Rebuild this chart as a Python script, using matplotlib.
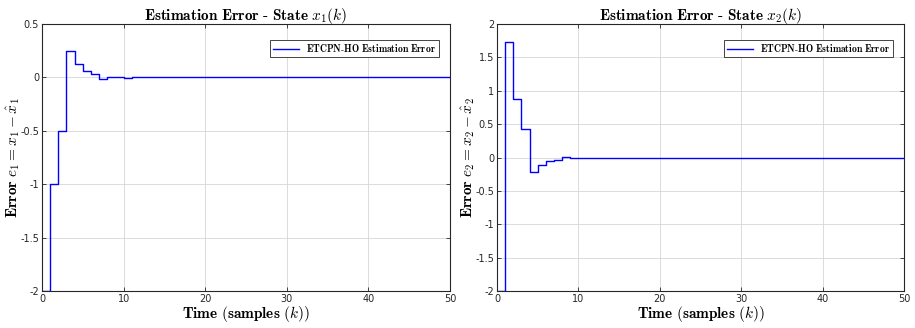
import matplotlib
matplotlib.use("Agg")
import matplotlib.pyplot as plt

plt.rcParams['mathtext.fontset'] = 'cm'
plt.rcParams['font.family'] = ['DejaVu Sans']

k = list(range(51))
e1 = [-2.0, -1.0, -0.5, 0.25, 0.125, 0.0625, 0.03, -0.015, 0.008, 0.008,
      -0.004, 0.0, 0.0, 0.0, 0.0, 0.0, 0.0, 0.0, 0.0, 0.0,
      0.0, 0.0, 0.0, 0.0, 0.0, 0.0, 0.0, 0.0, 0.0, 0.0,
      0.0, 0.0, 0.0, 0.0, 0.0, 0.0, 0.0, 0.0, 0.0, 0.0,
      0.0, 0.0, 0.0, 0.0, 0.0, 0.0, 0.0, 0.0, 0.0, 0.0, 0.0]
e2 = [-2.0, 1.73, 0.87, 0.43, -0.21, -0.11, -0.05, -0.03, 0.012, -0.008,
      -0.004, 0.0, 0.0, 0.0, 0.0, 0.0, 0.0, 0.0, 0.0, 0.0,
      0.0, 0.0, 0.0, 0.0, 0.0, 0.0, 0.0, 0.0, 0.0, 0.0,
      0.0, 0.0, 0.0, 0.0, 0.0, 0.0, 0.0, 0.0, 0.0, 0.0,
      0.0, 0.0, 0.0, 0.0, 0.0, 0.0, 0.0, 0.0, 0.0, 0.0, 0.0]

titles = [r'$\mathbf{Estimation\ Error\ \text{-}\ State}\ x_1(k)$',
          r'$\mathbf{Estimation\ Error\ \text{-}\ State}\ x_2(k)$']
ylabels = [r'$\mathbf{Error}\ e_1 = x_1 - \hat{x}_1$',
           r'$\mathbf{Error}\ e_2 = x_2 - \hat{x}_2$']
xlabel = r'$\mathbf{Time\ (samples\ (}k\mathbf{))}$'
legend_label = r'$\mathbf{ETCPN\text{-}HO\ Estimation\ Error}$'
yticks = [[-2, -1.5, -1, -0.5, 0, 0.5],
          [-2, -1.5, -1, -0.5, 0, 0.5, 1, 1.5, 2]]
ylims = [(-2, 0.5), (-2, 2)]

fig = plt.figure(figsize=(9.15, 3.28), dpi=100)
W, H = 915, 328
boxes = [(42, 24, 450, 291), (497, 24, 904, 291)]
dark = (0.15, 0.15, 0.15)

for i, data in enumerate([e1, e2]):
    x0, y0, x1, y1 = boxes[i]
    ax = fig.add_axes([x0 / W, 1 - y1 / H, (x1 - x0) / W, (y1 - y0) / H])
    ax.step(k, data, where='post', color=(0, 0, 1), lw=1.0,
            label='ETCPN-HO Estimation Error')
    ax.set_xlim(0, 50)
    ax.set_ylim(*ylims[i])
    ax.set_xticks([0, 10, 20, 30, 40, 50])
    ax.set_yticks(yticks[i])
    ax.set_yticklabels(['%g' % v for v in yticks[i]])
    ax.grid(True, color=(0.84, 0.84, 0.84), lw=0.6)
    ax.set_axisbelow(True)
    ax.tick_params(direction='in', length=3, width=0.6, labelsize=7,
                   colors=dark, top=True, right=True, pad=2)
    for s in ax.spines.values():
        s.set_color(dark)
        s.set_linewidth(0.8)
    ax.set_title(titles[i], fontsize=11, pad=3)
    ax.set_xlabel(xlabel, fontsize=11, labelpad=0)
    ax.set_ylabel(ylabels[i], fontsize=11, labelpad=-1)
    leg = ax.legend(loc='upper right', fontsize=7, fancybox=False,
                    framealpha=1, edgecolor=dark, handlelength=2.6,
                    borderpad=0.3, bbox_to_anchor=(0.985, 0.96))
    leg.get_frame().set_linewidth(0.6)
    for t in leg.get_texts():
        t.set_text(legend_label)

fig.savefig('out.png', dpi=100)
